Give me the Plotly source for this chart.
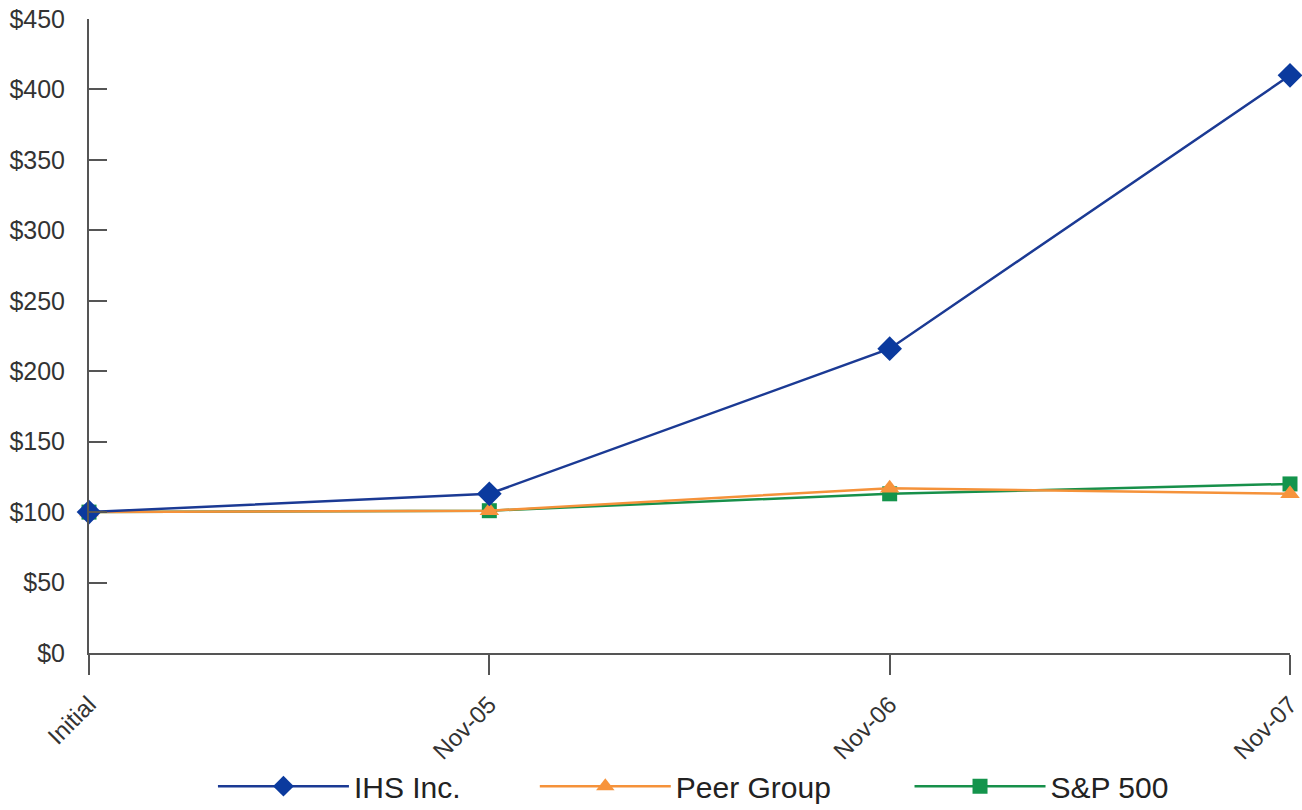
import plotly.graph_objects as go

categories = ["Initial", "Nov-05", "Nov-06", "Nov-07"]
ihs = [100, 113, 216, 410]
peer = [100, 101, 117, 113]
sp500 = [100, 101, 113, 120]
y_ticks = [0, 50, 100, 150, 200, 250, 300, 350, 400, 450]
y_labels = ["$" + str(v) for v in y_ticks]

# drawn bottom-to-top: S&P 500, Peer Group, IHS Inc.
series = [
    ("S&P 500", sp500, "#17904a", "#14944c", "square", 15, "legend3"),
    ("Peer Group", peer, "#f5923a", "#f7943c", "triangle-up", 17, "legend2"),
    ("IHS Inc.", ihs, "#1b3a94", "#0b3a9e", "diamond", 19, "legend"),
]

fig = go.Figure()
for name, vals, lc, mc, sym, sz, lg in series:
    fig.add_trace(go.Scatter(
        x=categories, y=vals, name=name, mode="lines+markers",
        line=dict(color=lc, width=2.5),
        marker=dict(symbol=sym, size=sz, color=mc),
        cliponaxis=False, legend=lg,
    ))

leg_common = dict(orientation="h", xanchor="left", y=-0.21, yanchor="middle",
                  font=dict(size=30, color="#222222"), itemwidth=131,
                  bgcolor="rgba(0,0,0,0)")

fig.update_layout(
    width=1302, height=810,
    margin=dict(l=89, r=12, t=19, b=157, autoexpand=False),
    paper_bgcolor="white", plot_bgcolor="white",
    font=dict(family="Liberation Sans, Arial, sans-serif", color="#333333", size=24),
    showlegend=True,
    legend=dict(x=0.1032, **leg_common),
    legend2=dict(x=0.3712, **leg_common),
    legend3=dict(x=0.6832, **leg_common),
)
fig.update_xaxes(
    type="category", range=[0, 3], showgrid=False, automargin=False,
    showline=True, linecolor="#555555", linewidth=2,
    ticks="outside", ticklen=20, tickcolor="#555555", tickwidth=1.5,
    tickangle=-45, tickfont=dict(size=24, color="#333333"), ticklabelstandoff=6,
)
fig.update_yaxes(
    range=[0, 450], showgrid=False, zeroline=False, automargin=False,
    showline=True, linecolor="#555555", linewidth=2,
    ticks="inside", ticklen=18, tickcolor="#555555", tickwidth=1.5,
    tickvals=y_ticks, ticktext=y_labels, tickfont=dict(size=25, color="#333333"),
    ticklabelstandoff=17,
)

fig.write_html("out.html")
